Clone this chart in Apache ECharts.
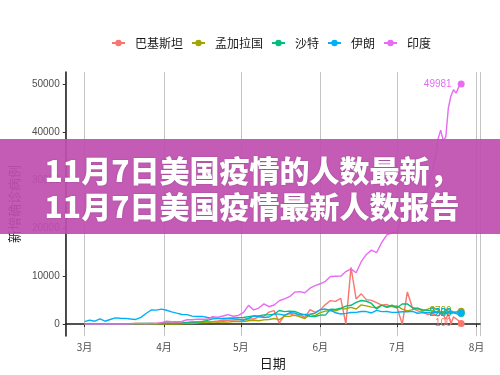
<!DOCTYPE html>
<html>
<head>
<meta charset="utf-8">
<script src="https://cdn.jsdelivr.net/npm/echarts@6/dist/echarts.min.js"></script>
<style>html,body{margin:0;padding:0;background:#fff}#c{width:500px;height:375px}</style>
</head>
<body>
<div id="c"></div>
<script>
// day offsets from 2020-03-01
const days = [0,2,4,6,8,10,12,14,16,18,20,22,24,26,28,30,32,34,36,38,40,42,44,46,48,50,52,54,56,58,60,62,64,66,68,70,72,74,76,78,80,82,84,86,88,90,92,94,96,98,100,102,104,106,108,110,112,114,116,118,120,122,124,126,128,130,132,134,136,137,138,139,140,141,142,143,144,145,146,147];
const seriesNames = ['巴基斯坦','孟加拉国','沙特','伊朗','印度'];
const pakistan = [0,0,2,1,0,14,8,22,50,100,180,150,120,150,170,240,220,250,280,250,230,330,340,580,530,510,640,800,800,820,900,990,1080,1050,1520,1640,2500,2800,200,1800,2200,1750,2060,1360,3000,2430,2960,4060,4900,4730,5380,0,11800,5250,6300,5100,4950,4470,3950,4070,3640,3400,0,6700,3340,2750,2500,1980,2150,1850,1700,2200,1900,1000,2200,0,1500,1100,700,100];
const bangladesh = [0,0,0,0,3,0,0,2,2,4,3,6,6,4,0,2,2,9,35,54,94,139,209,341,306,492,390,503,418,549,564,552,688,790,709,887,969,1162,930,1602,1617,1873,1532,1166,2029,1764,2381,2695,2828,2743,3171,3187,3471,3141,4008,3803,3531,3412,3946,3504,3682,3775,3114,2738,3027,3360,2686,3099,3533,3163,3034,2459,2459,2928,3057,2744,2520,2548,2772,2700];
const saudi = [0,1,3,2,4,6,24,17,38,36,70,119,133,112,96,110,165,140,138,190,364,429,435,518,762,1088,1147,1172,1223,1289,1351,1362,1552,1687,1701,1912,1911,2039,2840,2593,2691,2642,2235,1931,1644,1581,1881,1869,3121,3045,3288,3733,3921,4507,4919,4757,4301,3139,3938,3538,3943,3402,4193,4207,3392,3183,2994,2852,2692,2613,2434,2429,2565,2331,2476,2201,2378,2185,2036,2200];
const iran = [500,830,600,1070,600,960,1290,1210,1180,1050,970,1410,2200,2930,2900,3110,2880,2560,2270,2000,1970,1660,1570,1610,1370,1290,1190,1170,1150,1110,1010,800,1220,1680,1560,1380,1480,2100,2080,1840,2350,2310,1870,2020,2080,2280,2980,3130,2890,2360,2100,2240,2410,2450,2610,2610,2320,2870,2590,2630,2450,2460,2560,2560,2640,2260,2400,2350,2390,2380,2500,2180,2160,2170,2620,2530,2420,2300,2450,2320];
const india = [0,2,22,3,5,12,14,26,24,36,90,100,85,150,110,300,600,520,490,540,900,910,1030,1000,1010,1540,1420,1680,1970,1640,1800,2400,3900,2950,3340,4210,3620,3970,4860,5240,5700,6650,6750,6530,7470,8000,8400,8900,9900,9970,9980,10950,11500,10700,13000,14500,15400,14900,17000,18600,19000,19100,22800,24200,22300,25600,27100,28500,32700,35000,38600,40400,38200,39000,45000,47500,48800,48100,49300,49981];
const yTicks = [0,10000,20000,30000,40000,50000];
const colors = ['#F8766D','#A3A500','#00BF7D','#00B0F6','#E76BF3'];
const titleLines = ['11月7日美国疫情的人数最新，','11月7日美国疫情最新人数报告'];

const DAY = 86400000;
const start = Date.UTC(2020, 2, 1);
const allValues = [pakistan, bangladesh, saudi, iran, india];

function build(vals, color) {
  const last = vals.length - 1;
  return vals.map((v, i) => {
    const pt = [start + days[i] * DAY, v];
    if (i === last) {
      return {value: pt, label: {show: true, position: 'left', distance: 6, color: color, fontSize: 10,
        fontFamily: 'Liberation Sans', formatter: p => String(p.value[1])}};
    }
    return pt;
  });
}

const chart = echarts.init(document.getElementById('c'), null, {renderer: 'canvas'});
const option = {
  useUTC: true,
  animation: false,
  color: colors,
  legend: {
    left: 106, top: 32,
    itemWidth: 13, itemHeight: 8, itemGap: 8,
    textStyle: {fontSize: 12, color: '#1a1a1a', fontFamily: 'Noto Sans CJK SC', padding: [0,0,0,5]},
    data: seriesNames
  },
  grid: {left: 54, right: 20, top: 72, bottom: 34, containLabel: false},
  xAxis: {
    type: 'time',
    min: start - 7.35 * DAY,
    max: start + 154.35 * DAY,
    splitNumber: 5,
    name: '日期', nameLocation: 'middle', nameGap: 19,
    nameTextStyle: {fontSize: 13, color: '#1a1a1a', fontFamily: 'Noto Sans CJK SC'},
    axisLine: {lineStyle: {color: '#1a1a1a', width: 1.5}},
    axisTick: {show: true, length: 3, lineStyle: {color: '#333'}},
    axisLabel: {fontSize: 10, color: '#4d4d4d', margin: 6, fontFamily: 'Noto Sans CJK SC',
      formatter: v => (new Date(v).getUTCMonth() + 1) + '月'},
    splitLine: {show: true, lineStyle: {color: '#c4c4c4', width: 1}}
  },
  yAxis: {
    type: 'value',
    min: -2500, max: 52500,
    name: '新增确诊病例', nameLocation: 'middle', nameGap: 35,
    nameTextStyle: {fontSize: 13, color: '#1a1a1a', fontFamily: 'Noto Sans CJK SC'},
    axisLine: {show: true, lineStyle: {color: '#1a1a1a', width: 1.5}},
    axisTick: {show: true, length: 3, lineStyle: {color: '#333'}, customValues: yTicks},
    axisLabel: {fontSize: 10, color: '#4d4d4d', margin: 6, fontFamily: 'Liberation Sans', customValues: yTicks,
      formatter: v => String(v)},
    splitLine: {show: false}
  },
  series: seriesNames.map((n, k) => ({
    name: n, type: 'line',
    data: build(allValues[k], colors[k]),
    symbol: 'circle',
    symbolSize: (v, p) => p.dataIndex === allValues[k].length - 1 ? 7 : 0,
    showSymbol: true,
    lineStyle: {width: 1.4},
    emphasis: {disabled: true}
  })),
  graphic: [
    {type: 'rect', z: 100, shape: {x: 0, y: 139, width: 500, height: 95},
      style: {fill: 'rgba(192,80,176,0.93)'}},
    {type: 'text', z: 101, x: 252, y: 171,
      style: {text: titleLines[0], fill: '#fff', font: '900 30px "Noto Sans CJK SC"', align: 'center', verticalAlign: 'middle',
        textShadowColor: 'rgba(0,0,0,0.25)', textShadowBlur: 2}},
    {type: 'text', z: 101, x: 252, y: 207,
      style: {text: titleLines[1], fill: '#fff', font: '900 30px "Noto Sans CJK SC"', align: 'center', verticalAlign: 'middle',
        textShadowColor: 'rgba(0,0,0,0.25)', textShadowBlur: 2}}
  ]
};
chart.setOption(option);
</script>
</body>
</html>
